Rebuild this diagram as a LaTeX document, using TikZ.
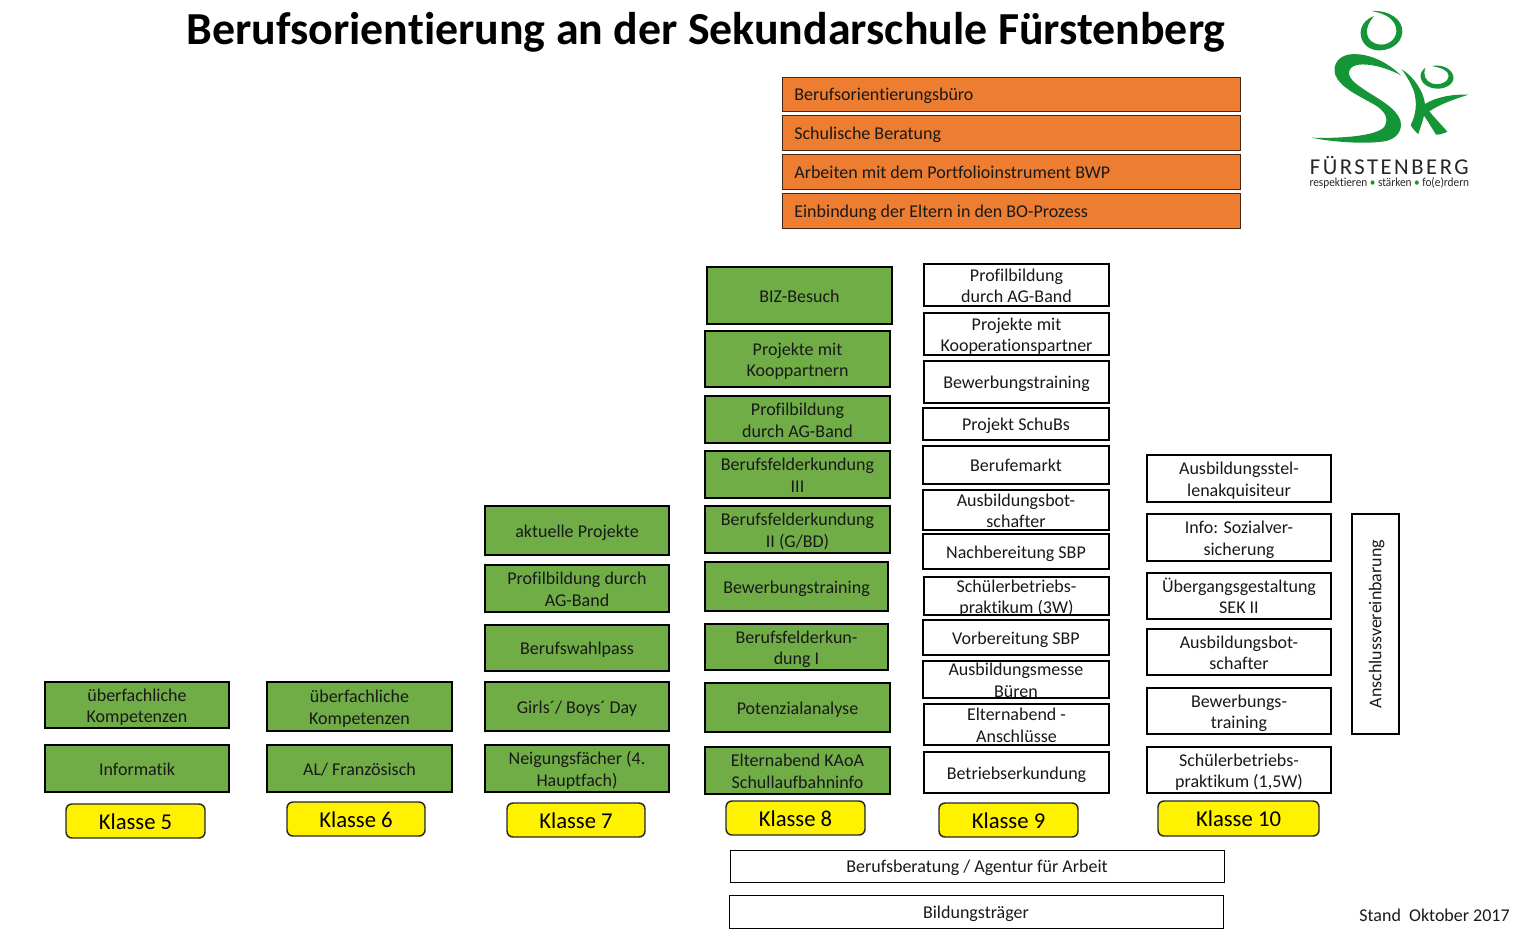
\documentclass[tikz,border=0pt]{standalone}
\usepackage{fontspec}
\setmainfont[Ligatures=NoCommon]{Carlito}
\usetikzlibrary{calc}
\definecolor{grn}{HTML}{70AD47}
\definecolor{org}{HTML}{ED7D31}
\definecolor{logog}{HTML}{149537}
\newfontfamily\logofont[LetterSpace=11]{Carlito}
\newcommand{\topstrut}{\rule{0pt}{\dimexpr.7\baselineskip+3.9pt\relax}}
\tikzset{
  x=0.75pt,y=-0.75pt,
  lbl/.style={font=\fontsize{13.5}{16.3}\selectfont,align=flush center,text=black!90,inner xsep=0pt,inner ysep=-9pt,
    execute at begin node={\topstrut},execute at end node={\strut}},
  gbox/.style={lbl,text width=137pt,draw=black,line width=1.5pt,fill=grn},
  wbox/.style={lbl,text width=137pt,draw=black,line width=1.5pt,fill=white},
  tbox/.style={lbl,text width=300pt,draw=black,line width=0.75pt,fill=white},
  obox/.style={lbl,draw=black!70!org,line width=0.75pt,fill=org,align=flush left,inner xsep=9pt,text width=325pt},
  kbox/.style={draw=black!85,line width=1.1pt,fill=yellow,rounded corners=4.5pt,inner sep=0pt,
    text height=12.5pt,text depth=0pt,font=\fontsize{17}{20}\selectfont},
  lg/.style={fill=logog,draw=none},
}
\newcommand{\bx}[7]{\node[#6,minimum width={(#4-#2)*0.75pt},minimum height={(#5-#3)*0.75pt}] (#1) at ({(#2+#4)/2},{(#3+#5)/2}) {#7};}
\begin{document}
\begin{tikzpicture}
\useasboundingbox (0,0) rectangle (1525,940);
\node[font=\fontsize{34.4}{38}\bfseries\selectfont,inner sep=0pt] (title) at (706,32) {Berufsorientierung an der Sekundarschule Fürstenberg};
% orange
\bx{o1}{782}{77}{1240}{111}{obox}{Berufsorientierungsbüro}
\bx{o2}{782}{115}{1240}{150}{obox}{Schulische Beratung}
\bx{o3}{782}{154}{1240}{189}{obox}{Arbeiten mit dem Portfolioinstrument BWP}
\bx{o4}{782}{193}{1240}{228}{obox}{Einbindung der Eltern in den BO-Prozess}
% class 5
\bx{a1}{45}{682}{229}{728}{gbox}{überfachliche\\Kompetenzen}
\bx{a2}{45}{745}{229}{792}{gbox}{Informatik}
% class 6
\bx{b1}{267}{682}{452}{731}{gbox}{überfachliche\\Kompetenzen}
\bx{b2}{267}{745}{452}{792}{gbox}{AL/ Französisch}
% class 7
\bx{c1}{485}{506}{669}{555}{gbox}{aktuelle Projekte}
\bx{c2}{485}{565}{669}{612}{gbox}{Profilbildung durch\\AG-Band}
\bx{c3}{485}{625}{669}{671}{gbox}{Berufswahlpass}
\bx{c4}{485}{682}{669}{731}{gbox}{Girls´/ Boys´ Day}
\bx{c5}{485}{745}{669}{792}{gbox}{Neigungsfächer (4.\\Hauptfach)}
% class 8
\bx{d1}{707}{267}{892}{324}{gbox}{BIZ-Besuch}
\bx{d2}{705}{331}{890}{387}{gbox}{Projekte mit\\Kooppartnern}
\bx{d3}{705}{396}{890}{443}{gbox}{Profilbildung\\durch AG-Band}
\bx{d4}{705}{451}{890}{498}{gbox}{Berufsfelderkundung\\III}
\bx{d5}{705}{506}{890}{553}{gbox}{Berufsfelderkundung\\II (G/BD)}
\bx{d6}{705}{562}{888}{611}{gbox}{Bewerbungstraining}
\bx{d7}{705}{624}{888}{670}{gbox}{Berufsfelderkun-\\dung I}
\bx{d8}{705}{683}{890}{732}{gbox}{Potenzialanalyse}
\bx{d9}{705}{747}{890}{794}{gbox}{Elternabend KAoA\\Schullaufbahninfo}
% class 9
\bx{e1}{924}{264}{1109}{306}{wbox}{Profilbildung\\durch AG-Band}
\bx{e2}{924}{313}{1109}{355}{wbox}{Projekte mit\\Kooperationspartner}
\bx{e3}{924}{361}{1109}{403}{wbox}{Bewerbungstraining}
\bx{e4}{923}{408}{1109}{440}{wbox}{Projekt SchuBs}
\bx{e5}{923}{446}{1109}{484}{wbox}{Berufemarkt}
\bx{e6}{923}{490}{1109}{530}{wbox}{Ausbildungsbot-\\schafter}
\bx{e7}{923}{534}{1109}{569}{wbox}{Nachbereitung SBP}
\bx{e8}{924}{577}{1109}{615}{wbox}{Schülerbetriebs-\\praktikum (3W)}
\bx{e9}{923}{620}{1109}{655}{wbox}{Vorbereitung SBP}
\bx{e10}{923}{661}{1109}{698}{wbox}{Ausbildungsmesse\\Büren}
\bx{e11}{924}{704}{1109}{745}{wbox}{Elternabend -\\Anschlüsse}
\bx{e12}{924}{752}{1109}{793}{wbox}{Betriebserkundung}
% class 10
\bx{f1}{1147}{455}{1331}{502}{wbox}{Ausbildungsstel-\\lenakquisiteur}
\bx{f2}{1147}{514}{1331}{561}{wbox}{Info: Sozialver-\\sicherung}
\bx{f3}{1147}{573}{1331}{619}{wbox}{Übergangsgestaltung\\SEK II}
\bx{f4}{1147}{629}{1331}{675}{wbox}{Ausbildungsbot-\\schafter}
\bx{f5}{1147}{688}{1331}{734}{wbox}{Bewerbungs-\\training}
\bx{f6}{1147}{747}{1331}{793}{wbox}{Schülerbetriebs-\\praktikum (1,5W)}
\node[draw=black,line width=1.5pt,fill=white,minimum width=35.25pt,minimum height=165pt,inner sep=0pt] (g) at (1375.5,624) {};
\node[lbl,rotate=90] (gt) at (1374.5,624) {Anschlussvereinbarung};
% class labels
\bx{k5}{66}{804}{205}{838}{kbox}{Klasse 5}
\bx{k6}{287}{802}{425}{836}{kbox}{Klasse 6}
\bx{k7}{507}{803}{645}{837}{kbox}{Klasse 7}
\bx{k8}{726}{801}{865}{835}{kbox}{Klasse 8}
\bx{k9}{939}{803}{1078}{837}{kbox}{Klasse 9}
\bx{k10}{1158}{801}{1319}{836}{kbox}{Klasse 10}
% bottom
\bx{h1}{730}{850}{1224}{882}{tbox}{Berufsberatung / Agentur für Arbeit}
\bx{h2}{729}{895}{1223}{928}{tbox}{Bildungsträger}
\node[lbl,anchor=east] (stand) at (1510,915) {Stand~~Oktober 2017};
% logo
\begin{scope}[shift={(1290,0)},x=0.25pt,y=-0.25pt]
\fill[lg] (245,33) .. controls (300,30) and (340,60) .. (337,98)
  .. controls (333,135) and (295,153) .. (262,151)
  .. controls (225,148) and (205,115) .. (214,85)
  .. controls (219,68) and (232,56) .. (252,48)
  .. controls (238,65) and (226,85) .. (232,105)
  .. controls (238,130) and (270,140) .. (293,130)
  .. controls (316,120) and (326,95) .. (314,72)
  .. controls (302,50) and (280,40) .. (245,33) -- cycle;
\fill[lg] (333,226) .. controls (290,185) and (235,158) .. (180,163)
  .. controls (145,168) and (126,195) .. (136,225)
  .. controls (150,262) and (205,287) .. (250,312)
  .. controls (285,332) and (298,355) .. (283,380)
  .. controls (263,408) and (150,416) .. (65,413)
  .. controls (130,427) and (240,434) .. (292,422)
  .. controls (328,412) and (342,380) .. (327,352)
  .. controls (307,315) and (252,290) .. (217,265)
  .. controls (187,245) and (167,225) .. (182,205)
  .. controls (197,185) and (265,190) .. (333,226) -- cycle;
\fill[lg] (335,208) .. controls (368,228) and (400,270) .. (405,312)
  .. controls (440,290) and (490,282) .. (535,284)
  .. controls (495,297) and (450,312) .. (418,334)
  .. controls (435,355) and (455,375) .. (472,395)
  .. controls (460,401) and (450,404) .. (438,404)
  .. controls (425,382) and (412,362) .. (402,347)
  .. controls (398,365) and (390,385) .. (385,402)
  .. controls (376,396) and (368,385) .. (362,375)
  .. controls (378,345) and (382,310) .. (372,275)
  .. controls (363,250) and (350,228) .. (335,208) -- cycle;
\fill[lg] (425,198) .. controls (465,190) and (494,215) .. (490,238)
  .. controls (485,262) and (445,274) .. (415,260)
  .. controls (388,247) and (383,218) .. (407,203)
  .. controls (397,225) and (407,243) .. (425,250)
  .. controls (450,258) and (476,245) .. (476,228)
  .. controls (476,212) and (455,203) .. (425,198) -- cycle;
\node[inner sep=0pt,text=black!85,font=\logofont\fontsize{17}{18}\selectfont] (lt) at (298,495) {FÜRSTENBERG};
\node[inner sep=0pt,text=black!85,xscale=0.92,font=\fontsize{9.2}{10}\selectfont] (ls) at (298,549) {respektieren {\color{logog}•} stärken {\color{logog}•} fo(e)rdern};
\end{scope}
\end{tikzpicture}
\end{document}
